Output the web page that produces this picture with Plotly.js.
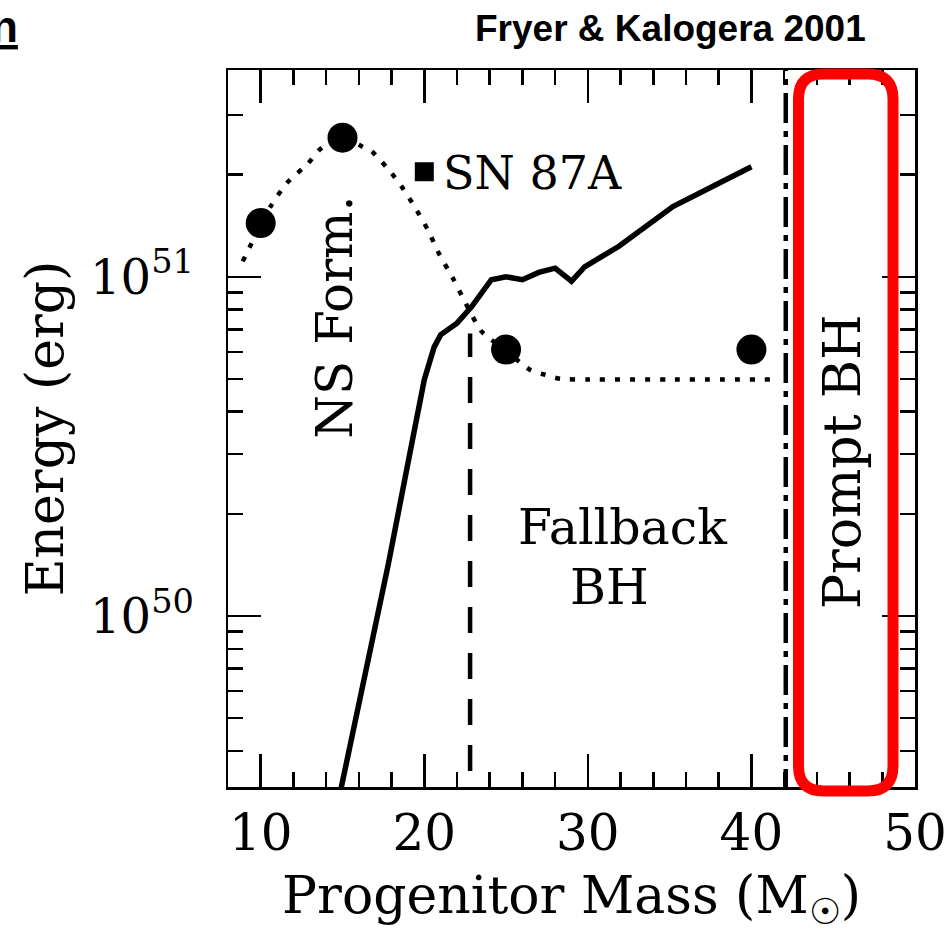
<!DOCTYPE html>
<html>
<head>
<meta charset="utf-8">
<script src="https://cdn.plot.ly/plotly-3.0.1.min.js"></script>
<style>html,body{margin:0;padding:0;background:#fff;}#chart{width:949px;height:933px;}</style>
</head>
<body>
<div id="chart"></div>
<script>
// ---- data ----
// explosion energy model curve (solid)
const solidMass   = [14.85, 17.8, 19.2, 20.0, 20.6, 21.0, 22.0, 22.9, 24.1, 25.0, 26.0, 27.0, 28.0, 29.0, 29.8, 31.9, 35.2, 40.0];
const solidEnergy = [3.0e49, 1.42e50, 3.16e50, 4.97e50, 6.2e50, 6.74e50, 7.3e50, 8.17e50, 9.8e50, 1.0e51, 9.8e50, 1.03e51, 1.06e51, 9.7e50, 1.07e51, 1.23e51, 1.61e51, 2.11e51];
// dotted fit through the simulations
const fitMass   = [8.9, 10.6, 11.6, 12.9, 13.6, 14.3, 15.0, 15.7, 16.2, 16.8, 18.0, 18.6, 19.4, 20.2, 20.9, 21.8, 22.5, 23.5, 25.0, 26.5, 27.4, 28.3, 30.0, 35.0, 41.4];
const fitEnergy = [1.11e51, 1.61e51, 1.89e51, 2.16e51, 2.37e51, 2.5e51, 2.55e51, 2.5e51, 2.42e51, 2.34e51, 2.02e51, 1.85e51, 1.61e51, 1.38e51, 1.17e51, 9.8e50, 8.4e50, 6.9e50, 6.05e50, 5.3e50, 5.14e50, 5.0e50, 4.98e50, 4.98e50, 4.98e50];
// simulation points (filled circles)
const simMass   = [10, 15, 25, 40];
const simEnergy = [1.44e51, 2.57e51, 6.1e50, 6.1e50];
// SN 1987A
const snMass   = [20];
const snEnergy = [2.04e51];
// boundaries
const fallbackBoundaryMass = 22.8;
const fallbackBoundaryTop  = 6.8e50;
const promptBoundaryMass   = 42.1;
// axis ticks
const xTickVals  = [10, 20, 30, 40, 50];
const xTickText  = ['10', '20', '30', '40', '50'];
const yTickVals  = [1e50, 1e51];
const yTickText  = ['10<sup>50</sup>', '10<sup>51</sup>'];
const yMinorVals = [4e49, 5e49, 6e49, 7e49, 8e49, 9e49, 2e50, 3e50, 4e50, 5e50, 6e50, 7e50, 8e50, 9e50, 2e51, 3e51];

const serif = 'DejaVu Serif';
const L = 228, R = 915, T = 70, B = 787;
const W = 949, H = 933;
const pw = R - L, ph = B - T;
const px = v => (v - L) / pw;          // pixel -> paper x
const py = v => (B - v) / ph;          // pixel -> paper y

const traces = [
  {x: fitMass, y: fitEnergy, mode: 'lines', line: {color: '#000', width: 4.5, dash: '5px,10px', shape: 'spline', smoothing: 0.6}, hoverinfo: 'skip'},
  {x: solidMass, y: solidEnergy, mode: 'lines', line: {color: '#000', width: 5.5}, hoverinfo: 'skip'},
  {x: [fallbackBoundaryMass, fallbackBoundaryMass], y: [1e49, fallbackBoundaryTop], mode: 'lines', line: {color: '#000', width: 4.5, dash: '26px,20px'}},
  {x: [promptBoundaryMass, promptBoundaryMass], y: [1e49, 1e52], mode: 'lines', line: {color: '#000', width: 4.5, dash: '30px,8px,6px,8px'}},
  {x: simMass, y: simEnergy, mode: 'markers', marker: {color: '#000', size: 30, symbol: 'circle'}},
  {x: snMass, y: snEnergy, mode: 'markers', marker: {color: '#000', size: 19, symbol: 'square'}}
];

// red rounded box
const bl = px(798.5), br = px(893), bt = py(74), bb = py(791);
const rx = 25 / pw, ry = 25 / ph;
const boxPath = `M ${bl+rx},${bt} L ${br-rx},${bt} Q ${br},${bt} ${br},${bt-ry} L ${br},${bb+ry} Q ${br},${bb} ${br-rx},${bb} L ${bl+rx},${bb} Q ${bl},${bb} ${bl},${bb+ry} L ${bl},${bt-ry} Q ${bl},${bt} ${bl+rx},${bt} Z`;

const xData = p => 10 + (p - 260) / 16.3;
const yLog  = p => 51 + (277 - p) / 339;

const layout = {
  width: W, height: H,
  margin: {l: L, r: W - R, t: T, b: H - B},
  paper_bgcolor: '#fff', plot_bgcolor: '#fff',
  showlegend: false,
  font: {family: serif, color: '#000'},
  xaxis: {
    range: [8, 50], showgrid: false, zeroline: false,
    showline: true, linecolor: '#000', linewidth: 2.5, mirror: 'ticks',
    ticks: 'inside', ticklen: 33, tickwidth: 2.5, tickcolor: '#000',
    tickvals: xTickVals, ticktext: xTickText,
    tickfont: {family: serif, size: 50, color: '#000'},
    minor: {ticks: 'inside', ticklen: 15, tickwidth: 2.5, tickcolor: '#000', dtick: 2, tick0: 0, showgrid: false},
    title: {text: 'Progenitor Mass (M<sub>☉</sub>)', font: {family: serif, size: 52, color: '#000'}, standoff: 27},
    automargin: false
  },
  yaxis: {
    type: 'log', range: [Math.log10(3.13e49), Math.log10(4.07e51)],
    showgrid: false, zeroline: false,
    showline: true, linecolor: '#000', linewidth: 2.5, mirror: 'ticks',
    ticks: 'inside', ticklen: 33, tickwidth: 2.5, tickcolor: '#000',
    tickvals: yTickVals, ticktext: yTickText,
    tickfont: {family: serif, size: 48, color: '#000'},
    ticklabelstandoff: 22,
    minor: {ticks: 'inside', ticklen: 15, tickwidth: 2.5, tickcolor: '#000', tickvals: yMinorVals, showgrid: false},
    title: {text: 'Energy (erg)', font: {family: serif, size: 52, color: '#000'}, standoff: 10},
    automargin: false
  },
  shapes: [
    {type: 'path', xref: 'paper', yref: 'paper', path: boxPath, line: {color: '#ff0000', width: 11}, fillcolor: 'rgba(0,0,0,0)', layer: 'above'}
  ],
  annotations: [
    {text: 'NS Form.', x: xData(334), y: yLog(317), xref: 'x', yref: 'y', xanchor: 'center', yanchor: 'middle', showarrow: false, textangle: -90, font: {family: serif, size: 50, color: '#000'}},
    {text: 'SN 87A', x: xData(440), y: yLog(173), xref: 'x', yref: 'y', xanchor: 'left', yanchor: 'middle', showarrow: false, font: {family: serif, size: 46, color: '#000'}},
    {text: 'Fallback', x: xData(621.5), y: yLog(528), xref: 'x', yref: 'y', xanchor: 'center', yanchor: 'middle', showarrow: false, font: {family: serif, size: 49, color: '#000'}},
    {text: 'BH', x: xData(607.5), y: yLog(588), xref: 'x', yref: 'y', xanchor: 'center', yanchor: 'middle', showarrow: false, font: {family: serif, size: 49, color: '#000'}},
    {text: 'Prompt BH', x: xData(840), y: yLog(461.5), xref: 'x', yref: 'y', xanchor: 'center', yanchor: 'middle', showarrow: false, textangle: -90, font: {family: serif, size: 52, color: '#000'}},
    {text: '<b>Fryer & Kalogera 2001</b>', x: px(670), y: py(28.5), xref: 'paper', yref: 'paper', xanchor: 'center', yanchor: 'middle', showarrow: false, font: {family: 'Liberation Sans', size: 37, color: '#000'}},
    {text: '<b><u>n</u></b>', x: px(20), y: py(26), xref: 'paper', yref: 'paper', xanchor: 'right', yanchor: 'middle', showarrow: false, font: {family: 'Liberation Sans', size: 44, color: '#000'}}
  ]
};

Plotly.newPlot('chart', traces, layout, {staticPlot: true});
</script>
</body>
</html>
